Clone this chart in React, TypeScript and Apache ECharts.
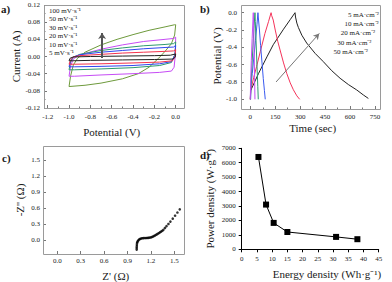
import React, { useEffect, useRef } from "react";
import * as echarts from "echarts";

// ---------- Data ----------
// a) CV loops [potential V, current A]
const cv5 = [[-1.0,-0.01],[-0.99,-0.004],[-0.96,-0.001],[-0.8,0.0],[-0.5,0.001],[-0.2,0.002],[-0.05,0.003],[0.0,0.006],[-0.005,-0.002],[-0.03,-0.006],[-0.2,-0.007],[-0.5,-0.008],[-0.8,-0.009],[-0.97,-0.01],[-1.0,-0.01]];
const cv10 = [[-1.0,-0.018],[-0.985,-0.008],[-0.96,-0.001],[-0.9,0.002],[-0.7,0.005],[-0.5,0.008],[-0.3,0.01],[-0.1,0.012],[-0.02,0.013],[0.0,0.016],[-0.006,0.0],[-0.03,-0.01],[-0.15,-0.013],[-0.4,-0.015],[-0.7,-0.017],[-0.95,-0.018],[-1.0,-0.018]];
const cv20 = [[-1.0,-0.024],[-0.985,-0.01],[-0.96,-0.001],[-0.9,0.004],[-0.7,0.01],[-0.5,0.014],[-0.3,0.018],[-0.1,0.021],[-0.02,0.022],[0.0,0.026],[-0.006,0.004],[-0.04,-0.012],[-0.15,-0.017],[-0.4,-0.021],[-0.7,-0.023],[-0.95,-0.024],[-1.0,-0.024]];
const cv30 = [[-1.0,-0.031],[-0.985,-0.013],[-0.96,-0.002],[-0.9,0.005],[-0.7,0.014],[-0.5,0.02],[-0.3,0.025],[-0.1,0.028],[-0.02,0.03],[0.0,0.034],[-0.006,0.006],[-0.04,-0.014],[-0.15,-0.021],[-0.4,-0.026],[-0.7,-0.029],[-0.95,-0.031],[-1.0,-0.031]];
const cv50 = [[-1.0,-0.046],[-0.985,-0.022],[-0.96,-0.006],[-0.9,0.004],[-0.7,0.017],[-0.5,0.027],[-0.3,0.035],[-0.1,0.04],[-0.02,0.042],[0.0,0.045],[-0.005,0.0],[-0.015,-0.025],[-0.04,-0.034],[-0.15,-0.037],[-0.4,-0.04],[-0.7,-0.043],[-0.95,-0.046],[-1.0,-0.046]];
const cv100 = [[-1.0,-0.07],[-0.985,-0.045],[-0.96,-0.02],[-0.92,-0.004],[-0.85,0.01],[-0.7,0.027],[-0.55,0.04],[-0.4,0.051],[-0.25,0.061],[-0.1,0.069],[-0.01,0.074],[0.0,0.074],[-0.01,0.05],[-0.04,0.03],[-0.1,0.012],[-0.16,-0.004],[-0.25,-0.025],[-0.35,-0.04],[-0.5,-0.052],[-0.7,-0.062],[-0.85,-0.067],[-1.0,-0.07]];
const cvArrow = [[-0.69,-0.0035],[-0.69,0.055]];
const cvLabels = ["100 mV·s⁻¹","50 mV·s⁻¹","30 mV·s⁻¹","20 mV·s⁻¹","10 mV·s⁻¹","5 mV·s⁻¹"];

// b) charge/discharge [time s, potential V]
const gcd5 = [[0,-1.0],[2,-0.9],[50,-0.7],[100,-0.51],[138,-0.37],[200,-0.19],[240,-0.08],[269,0.0],[272,-0.05],[280,-0.12],[289,-0.17],[310,-0.26],[339,-0.35],[390,-0.47],[439,-0.565],[490,-0.67],[540,-0.757],[590,-0.83],[640,-0.892],[680,-0.95],[710,-0.99]];
const gcd10 = [[0,-1.0],[3,-0.9],[20,-0.75],[38,-0.62],[60,-0.45],[88,-0.24],[110,-0.1],[125,0.0],[128,-0.03],[138,-0.085],[150,-0.2],[165,-0.33],[179,-0.43],[200,-0.58],[219,-0.7],[240,-0.81],[259,-0.89],[280,-0.96],[297,-1.0]];
const gcd20 = [[2,-1.0],[4,-0.85],[12,-0.7],[22,-0.5],[31,-0.32],[40,-0.14],[46,0.0],[48,-0.05],[55,-0.2],[62,-0.38],[70,-0.57],[78,-0.76],[85,-0.9],[90,-1.0]];
const gcd30 = [[1,-1.0],[3,-0.85],[9,-0.65],[15,-0.42],[22,-0.18],[28,0.0],[30,-0.1],[35,-0.35],[40,-0.6],[45,-0.85],[48,-1.0]];
const gcd50 = [[0,-1.0],[2,-0.8],[6,-0.55],[11,-0.3],[16,-0.08],[18,0.0],[20,-0.15],[23,-0.45],[26,-0.75],[28,-1.0]];
const gcdArrow = [[155,-0.8],[415,-0.24]];
const gcdLabels = ["5 mA·cm⁻²","10 mA·cm⁻²","20 mA·cm⁻²","30 mA·cm⁻²","50 mA·cm⁻²"];

// c) Nyquist [Z' Ω, -Z'' Ω]
const nyquist = [[1.018,-0.18],[1.018,-0.15],[1.019,-0.12],[1.02,-0.09],[1.022,-0.06],[1.026,-0.04],[1.032,-0.02],[1.04,-0.005],[1.05,0.01],[1.062,0.02],[1.075,0.028],[1.09,0.033],[1.105,0.036],[1.12,0.037],[1.135,0.037],[1.15,0.038],[1.165,0.04],[1.18,0.043],[1.195,0.048],[1.21,0.055],[1.225,0.064],[1.24,0.075],[1.255,0.087],[1.27,0.1],[1.285,0.113],[1.3,0.127],[1.315,0.142],[1.33,0.157],[1.345,0.173],[1.36,0.19],[1.38,0.225],[1.4,0.26],[1.425,0.3],[1.45,0.345],[1.48,0.4],[1.51,0.455],[1.54,0.515],[1.57,0.575]];

// d) Ragone [energy Wh/g, power W/g]
const energyDensity = [5.5, 8, 10.5, 15, 31, 38];
const powerDensity = [6400, 3100, 1830, 1200, 860, 700];

// ---------- Styles ----------
const FONT = "Liberation Serif, serif";
const FRAME = "#9a9a9a";
const TICK = "#777";
const TXT = "#1a1a1a";

function framedAxis(o: any) {
  return {
    type: "value",
    gridIndex: o.grid,
    min: o.min,
    max: o.max,
    interval: o.interval,
    offset: o.offset,
    axisLine: { show: false, onZero: false },
    axisTick: { show: true, inside: true, length: 3, lineStyle: { color: TICK, width: 1 } },
    minorTick: { show: o.minor, splitNumber: 2, length: 1.5, lineStyle: { color: TICK, width: 1 } },
    splitLine: { show: false },
    minorSplitLine: { show: false },
    axisLabel: { fontFamily: FONT, fontSize: 7, color: TXT, margin: o.margin, formatter: (v: number) => v.toFixed(o.dec) },
    name: o.name,
    nameLocation: "middle",
    nameGap: o.nameGap,
    nameTextStyle: { fontFamily: FONT, fontSize: 11, color: TXT },
  };
}

function frameRect(x1: number, y1: number, x2: number, y2: number) {
  return { type: "rect", shape: { x: x1 + 0.5, y: y1 + 0.5, width: x2 - x1, height: y2 - y1 }, style: { fill: "none", stroke: FRAME, lineWidth: 1 }, silent: true, z: 10 };
}

function txt(x: number, y: number, text: string, size: number, weight = "normal", align = "left") {
  return { type: "text", x, y, silent: true, z: 20, style: { text, fontFamily: FONT, fontSize: size, fontWeight: weight, fill: TXT, align, verticalAlign: "middle" } };
}

const lineS = (x: number, data: number[][], color: string, extra: any = {}) => ({
  type: "line", xAxisIndex: x, yAxisIndex: x, data, showSymbol: false, symbol: "none",
  lineStyle: { color, width: 1 }, itemStyle: { color }, clip: false, smooth: false, ...extra,
});

const arrowMark = (pts: number[][], color: string, width: number, size: number[]) => ({
  silent: true, symbol: ["none", "arrow"], symbolSize: size,
  label: { show: false }, lineStyle: { color, width, type: "solid" },
  data: [[{ coord: pts[0] }, { coord: pts[1] }]],
});

const plainAxis = (grid: number, min: number, max: number, interval: number) => ({
  type: "value", gridIndex: grid, min, max, interval,
  axisLine: { show: true, onZero: false, lineStyle: { color: "#000", width: 1 } },
  axisTick: { show: true, inside: false, length: 3, lineStyle: { color: "#000" } },
  splitLine: { show: false },
  axisLabel: { fontFamily: FONT, fontSize: 7, color: TXT, margin: 6, formatter: (v: number) => String(v) },
});

const option: any = {
  animation: false,
  backgroundColor: "#fff",
  textStyle: { fontFamily: FONT },
  grid: [
    { left: 47.7, width: 128, top: 5, height: 103 },
    { left: 250.3, width: 124.7, top: 12.7, height: 86.6 },
    { left: 57.3, width: 117, top: 160, height: 80 },
    { left: 241.7, width: 137, top: 148.3, height: 101 },
  ],
  xAxis: [
    framedAxis({ grid: 0, min: -1.2, max: 0.0, interval: 0.2, offset: 0, minor: true, margin: 5, dec: 1, name: "Potential (V)", nameGap: 18 }),
    framedAxis({ grid: 1, min: 0, max: 750, interval: 150, offset: 9.7, minor: true, margin: 4, dec: 0, name: "Time (sec)", nameGap: 13 }),
    framedAxis({ grid: 2, min: 0, max: 1.5, interval: 0.3, offset: 14, minor: false, margin: 3, dec: 1, name: "Z' (Ω)", nameGap: 16 }),
    plainAxis(3, 0, 45, 5),
  ],
  yAxis: [
    framedAxis({ grid: 0, min: -0.12, max: 0.12, interval: 0.04, offset: 3.7, minor: true, margin: 4, dec: 2, name: "Current (A)", nameGap: 21 }),
    framedAxis({ grid: 1, min: -1.0, max: 0.0, interval: 0.2, offset: 9.3, minor: true, margin: 4, dec: 1, name: "Potential (V)", nameGap: 18 }),
    framedAxis({ grid: 2, min: 0, max: 1.5, interval: 0.3, offset: 14.3, minor: false, margin: 3, dec: 1, name: "-Z'' (Ω)", nameGap: 18 }),
    {
      ...plainAxis(3, 0, 7000, 1000),
      name: "Power density (W·g⁻¹)", nameLocation: "middle", nameGap: 26,
      nameTextStyle: { fontFamily: FONT, fontSize: 11, color: TXT },
    },
  ],
  series: [
    lineS(0, cv100, "#6e9a3c"),
    lineS(0, cv50, "#c64cf5"),
    lineS(0, cv30, "#2e9a6e"),
    lineS(0, cv20, "#2f46f0"),
    lineS(0, cv10, "#f5334d"),
    lineS(0, cv5, "#222222", { markLine: arrowMark(cvArrow, "#555", 2, [6, 6]) }),
    lineS(1, gcd5, "#222222", { markLine: arrowMark(gcdArrow, "#777", 1, [5, 6]) }),
    lineS(1, gcd10, "#f5335a"),
    lineS(1, gcd20, "#3a5af0"),
    lineS(1, gcd30, "#2e9a6e"),
    lineS(1, gcd50, "#c64cf5"),
    { type: "scatter", xAxisIndex: 2, yAxisIndex: 2, data: nyquist, symbolSize: 2.6, itemStyle: { color: "#000" }, clip: false },
    {
      type: "line", xAxisIndex: 3, yAxisIndex: 3,
      data: energyDensity.map((e, i) => [e, powerDensity[i]]),
      symbol: "rect", symbolSize: 6, showSymbol: true,
      lineStyle: { color: "#000", width: 1 }, itemStyle: { color: "#000" },
    },
  ],
  graphic: [
    frameRect(44, 5, 184, 108),
    frameRect(241, 5, 380, 109),
    frameRect(43, 146, 184, 254),
    txt(1, 9, "a)", 11, "bold"),
    txt(200, 9, "b)", 11, "bold"),
    txt(2, 158, "c)", 11, "bold"),
    txt(200, 155, "d)", 11, "bold"),
    txt(327, 274, "Energy density (Wh·g⁻¹)", 11, "normal", "center"),
    ...cvLabels.map((t, i) => txt(49, 10.7 + i * 8.5, t, 7)),
    ...gcdLabels.map((t, i) => txt(348 - i * 3.6, 15 + i * 9.2, t, 7)),
  ],
};

export default function App() {
  const ref = useRef<HTMLDivElement>(null);
  useEffect(() => {
    const chart = echarts.init(ref.current!, null, { renderer: "svg" });
    chart.setOption(option);
    return () => chart.dispose();
  }, []);
  return <div ref={ref} style={{ position: "absolute", left: 0, top: 0, width: 392, height: 282 }} />;
}
